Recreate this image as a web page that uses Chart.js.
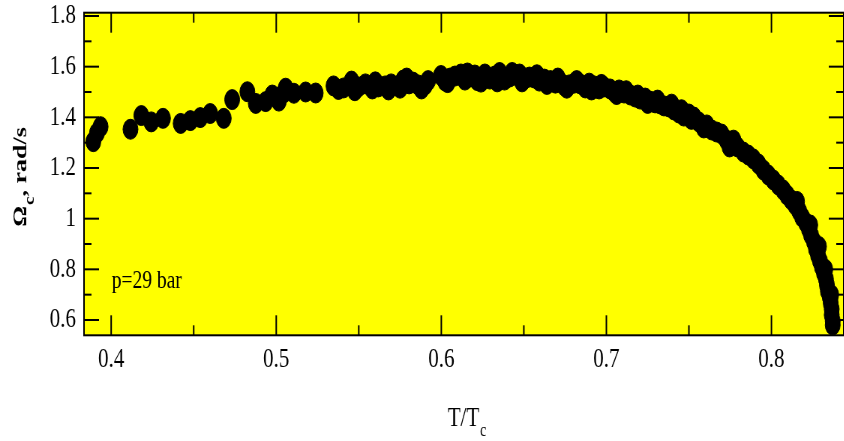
<!DOCTYPE html>
<html>
<head>
<meta charset="utf-8">
<script src="https://cdn.jsdelivr.net/npm/chart.js@4.4.1/dist/chart.umd.min.js"></script>
<style>
  html, body { margin: 0; padding: 0; background: #fff; overflow: hidden; }
</style>
</head>
<body>
<!-- drawn wide, then squeezed to the page width like the source figure -->
<canvas id="omegaChart" width="1136" height="441" style="width:852px;height:441px"></canvas>
<script>
// critical angular velocity vs reduced temperature, p = 29 bar
const tRatio = [
  0.3892, 0.3914, 0.3936, 0.4117, 0.4183, 0.4243, 0.4314, 0.4421, 0.4480, 0.4540,
  0.4600, 0.4682, 0.4733, 0.4825, 0.4876, 0.4936, 0.4976, 0.5016, 0.5046, 0.5057,
  0.5107, 0.5178, 0.5239, 0.5347, 0.5377, 0.5408, 0.5456, 0.5476, 0.5498, 0.5540,
  0.5582, 0.5600, 0.5618, 0.5660, 0.5680, 0.5696, 0.5739, 0.5750, 0.5769, 0.5790,
  0.5805, 0.5829, 0.5859, 0.5880, 0.5902, 0.5920, 0.5998, 0.6023, 0.6038, 0.6053,
  0.6083, 0.6119, 0.6143, 0.6158, 0.6173, 0.6203, 0.6218, 0.6240, 0.6264, 0.6294,
  0.6324, 0.6339, 0.6353, 0.6383, 0.6414, 0.6429, 0.6444, 0.6474, 0.6489, 0.6504,
  0.6534, 0.6564, 0.6579, 0.6594, 0.6624, 0.6640, 0.6661, 0.6691, 0.6706, 0.6721,
  0.6745, 0.6760, 0.6775, 0.6805, 0.6820, 0.6841, 0.6872, 0.6896, 0.6910, 0.6926,
  0.6956, 0.6970, 0.6986, 0.7022, 0.7047, 0.7062, 0.7077, 0.7107, 0.7120, 0.7145,
  0.7175, 0.7190, 0.7205, 0.7235, 0.7250, 0.7265, 0.7295, 0.7310, 0.7325, 0.7349,
  0.7379, 0.7395, 0.7409, 0.7439, 0.7455, 0.7469, 0.7500, 0.7515, 0.7530, 0.7560,
  0.7590, 0.7608, 0.7638, 0.7668, 0.7698, 0.7728, 0.7746, 0.7770, 0.7794, 0.7830,
  0.7860, 0.7890, 0.7921, 0.7951, 0.7981, 0.8011, 0.8041, 0.8071, 0.8095, 0.8120,
  0.8144, 0.8155, 0.8168, 0.8186, 0.8210, 0.8227, 0.8235, 0.8240, 0.8258, 0.8270,
  0.8282, 0.8288, 0.8294, 0.8306, 0.8318, 0.8326, 0.8330, 0.8336, 0.8342, 0.8353,
  0.8359, 0.8362, 0.8365, 0.8365, 0.8371, 0.8371
];
const omegaC = [
  1.304, 1.338, 1.363, 1.353, 1.407, 1.382, 1.396, 1.376, 1.387, 1.399,
  1.415, 1.396, 1.470, 1.501, 1.455, 1.462, 1.488, 1.464, 1.496, 1.515,
  1.495, 1.500, 1.496, 1.524, 1.510, 1.516, 1.543, 1.505, 1.520, 1.532,
  1.512, 1.540, 1.520, 1.524, 1.508, 1.532, 1.524, 1.515, 1.547, 1.555,
  1.532, 1.539, 1.528, 1.512, 1.528, 1.545, 1.565, 1.543, 1.537, 1.555,
  1.563, 1.571, 1.547, 1.575, 1.559, 1.567, 1.545, 1.539, 1.571, 1.551,
  1.563, 1.540, 1.577, 1.547, 1.559, 1.577, 1.567, 1.571, 1.540, 1.551,
  1.559, 1.555, 1.568, 1.543, 1.551, 1.530, 1.545, 1.535, 1.555, 1.539,
  1.524, 1.515, 1.528, 1.535, 1.545, 1.532, 1.516, 1.535, 1.508, 1.524,
  1.512, 1.530, 1.520, 1.512, 1.500, 1.490, 1.508, 1.496, 1.505, 1.488,
  1.480, 1.488, 1.472, 1.476, 1.455, 1.464, 1.457, 1.468, 1.453, 1.445,
  1.441, 1.452, 1.429, 1.417, 1.430, 1.405, 1.413, 1.392, 1.401, 1.382,
  1.358, 1.370, 1.350, 1.342, 1.334, 1.310, 1.283, 1.310, 1.283, 1.263,
  1.251, 1.236, 1.216, 1.192, 1.172, 1.153, 1.133, 1.113, 1.093, 1.074,
  1.054, 1.068, 1.030, 1.006, 0.983, 0.959, 0.975, 0.935, 0.908, 0.880,
  0.856, 0.890, 0.833, 0.809, 0.785, 0.800, 0.762, 0.738, 0.714, 0.691,
  0.667, 0.700, 0.643, 0.620, 0.596, 0.580
];

const xTickLabels = [0.4, 0.5, 0.6, 0.7, 0.8];
const xMinorTicks = [0.45, 0.55, 0.65, 0.75];
const yTickLabels = [0.6, 0.8, 1.0, 1.2, 1.4, 1.6, 1.8];
const yMinorTicks = [0.7, 0.9, 1.1, 1.3, 1.5, 1.7];

const serif = '"Liberation Serif", "Times New Roman", serif';

// yellow plot area, inward ticks, frame and labels with subscripts
const framePlugin = {
  id: 'frame',
  beforeDraw(chart) {
    const { ctx, chartArea: a } = chart;
    ctx.save();
    ctx.fillStyle = '#ffff00';
    ctx.fillRect(a.left, a.top, a.right - a.left, a.bottom - a.top);
    ctx.restore();
  },
  afterDatasetsDraw(chart) {
    const { ctx, chartArea: a } = chart;
    const xs = chart.scales.x, ys = chart.scales.y;
    ctx.save();
    ctx.strokeStyle = '#000';
    ctx.lineWidth = 2;
    const line = (x1, y1, x2, y2) => {
      ctx.beginPath(); ctx.moveTo(x1, y1); ctx.lineTo(x2, y2); ctx.stroke();
    };
    xTickLabels.concat(xMinorTicks).forEach(v => {
      const px = xs.getPixelForValue(v);
      const len = xTickLabels.includes(v) ? 20 : 10;
      line(px, a.bottom, px, a.bottom - len);
      line(px, a.top, px, a.top + len);
    });
    yTickLabels.concat(yMinorTicks).forEach(v => {
      const py = ys.getPixelForValue(v);
      const len = yTickLabels.includes(v) ? 20 : 10;
      line(a.left, py, a.left + len, py);
      line(a.right, py, a.right - len, py);
    });
    ctx.strokeRect(a.left, a.top, a.right - a.left, a.bottom - a.top);

    ctx.fillStyle = '#000';
    ctx.textBaseline = 'alphabetic';
    ctx.textAlign = 'left';

    // p=29 bar
    ctx.font = '26px ' + serif;
    ctx.fillText('p=29 bar', 149, 288);

    // x title T/Tc
    ctx.font = '28px ' + serif;
    ctx.fillText('T/T', 597, 426);
    const w = ctx.measureText('T/T').width;
    ctx.font = '19px ' + serif;
    ctx.fillText('c', 597 + w + 1, 436);

    // y title  Ωc, rad/s
    ctx.translate(34.7, 226.7);
    ctx.rotate(-Math.PI / 2);
    ctx.font = 'bold 26px ' + serif;
    ctx.fillText('\u03A9', 0, 0);
    let off = ctx.measureText('\u03A9').width;
    ctx.font = 'bold 19px ' + serif;
    ctx.fillText('c', off + 1, 10);
    off += ctx.measureText('c').width + 1;
    ctx.font = 'bold 26px ' + serif;
    ctx.fillText(', rad/s', off, 0);
    ctx.restore();
  }
};

const points = tRatio.map((t, i) => ({ x: t, y: omegaC[i] }));

new Chart(document.getElementById('omegaChart'), {
  type: 'scatter',
  data: {
    datasets: [{
      data: points,
      backgroundColor: '#000',
      borderColor: '#000',
      borderWidth: 1,
      pointRadius: 10,
      pointHoverRadius: 10
    }]
  },
  options: {
    responsive: false,
    animation: false,
    devicePixelRatio: 1,
    events: [],
    layout: { padding: { left: 0, right: 5.3, top: 12.7, bottom: 0 } },
    plugins: { legend: { display: false }, tooltip: { enabled: false } },
    scales: {
      x: {
        type: 'linear',
        min: 0.38355,
        max: 0.8438,
        grid: { display: false, drawTicks: false },
        border: { display: false },
        afterBuildTicks: s => { s.ticks = xTickLabels.map(v => ({ value: v })); },
        afterFit: s => { s.height = 105.7; s.paddingLeft = 0; s.paddingRight = 0; },
        ticks: {
          color: '#000',
          padding: 8,
          maxRotation: 0,
          autoSkip: false,
          font: { family: serif, size: 28 },
          callback: v => v.toFixed(1)
        }
      },
      y: {
        min: 0.5396,
        max: 1.813,
        grid: { display: false, drawTicks: false },
        border: { display: false },
        afterBuildTicks: s => { s.ticks = yTickLabels.map(v => ({ value: v })); },
        afterFit: s => { s.width = 112; s.paddingTop = 0; s.paddingBottom = 0; },
        ticks: {
          color: '#000',
          padding: 10.7,
          autoSkip: false,
          font: { family: serif, size: 28 },
          callback: v => String(Math.round(v * 10) / 10)
        }
      }
    }
  },
  plugins: [framePlugin]
});
</script>
</body>
</html>
